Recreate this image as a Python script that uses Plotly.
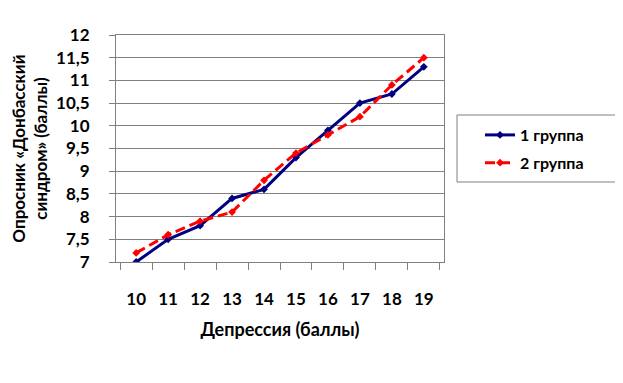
import plotly.graph_objects as go

categories = ["10", "11", "12", "13", "14", "15", "16", "17", "18", "19"]
group1 = [7.0, 7.5, 7.8, 8.4, 8.6, 9.3, 9.9, 10.5, 10.7, 11.3]
group2 = [7.2, 7.6, 7.9, 8.1, 8.8, 9.4, 9.8, 10.2, 10.9, 11.5]
names = ["1 группа", "2 группа"]

font = "Lato"

# page body has an 8px margin, so plot coordinates are page coordinates minus 8
L, R, T, B = 108, 436, 27, 254
W, H = R - L, B - T

fig = go.Figure()
fig.add_trace(go.Scatter(x=categories, y=group1, name=names[0], mode="lines+markers",
                         legendgroup="g1",
                         line=dict(color="#000080", width=3),
                         marker=dict(symbol="diamond", size=6, color="#000080")))
fig.add_trace(go.Scatter(x=categories, y=group2, name=names[1], mode="lines+markers",
                         legendgroup="g2",
                         line=dict(color="#FF0000", width=3, dash="10px,5px"),
                         marker=dict(symbol="diamond", size=6, color="#FF0000")))

# legend frame
fig.add_shape(type="rect", xref="paper", yref="paper",
              x0=(449 - L) / W, x1=(608 - L) / W,
              y0=(B - 174) / H, y1=(B - 107) / H,
              line=dict(color="#808080", width=1), fillcolor="rgba(0,0,0,0)")

fig.update_layout(
    width=623, height=383,
    margin=dict(l=L, r=623 - R, t=T, b=383 - B, autoexpand=False),
    paper_bgcolor="white", plot_bgcolor="white",
    separators=", ",
    font=dict(family=font, color="black"),
    legend=dict(x=(472 - L) / W, y=(B - 110) / H, xanchor="left", yanchor="top",
                bgcolor="rgba(0,0,0,0)", borderwidth=0,
                font=dict(size=16, family=font, weight="bold"),
                itemwidth=30, tracegroupgap=4),
    showlegend=True,
)
fig.update_xaxes(
    type="category", tickson="boundaries", ticks="outside", ticklen=7,
    tickcolor="#808080", showgrid=False, automargin=False,
    showline=True, linecolor="#808080", linewidth=1, mirror=True,
    tickfont=dict(size=17, family=font, weight="bold"),
    ticklabelstandoff=22,
    title=dict(text="<b>Депрессия (баллы)</b>", font=dict(size=18, family=font), standoff=14),
)
fig.update_yaxes(
    range=[7, 12], dtick=0.5, tick0=7, ticks="outside", ticklen=6,
    tickcolor="#808080", automargin=False,
    showgrid=True, gridcolor="#808080", gridwidth=1,
    showline=True, linecolor="#808080", linewidth=1, mirror=True,
    tickfont=dict(size=17, family=font, weight="bold"),
    ticklabelstandoff=16,
    title=dict(text="<b>Опросник «Донбасский<br>синдром» (баллы)</b>",
               font=dict(size=17, family=font), standoff=22),
)

fig.write_html("out.html")
